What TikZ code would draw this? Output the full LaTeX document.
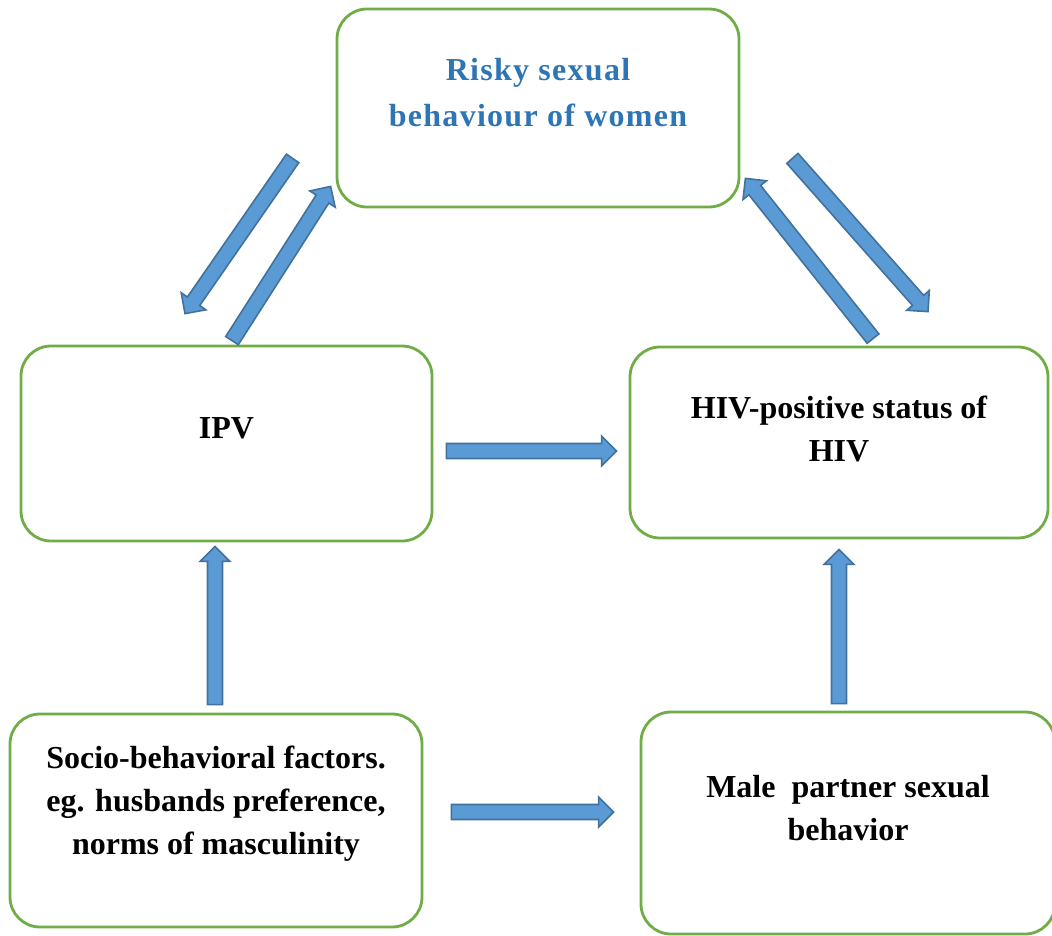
\documentclass[tikz,border=0pt]{standalone}
\usepackage{fontspec}
\setmainfont{Liberation Serif}
\newfontfamily\widefont[LetterSpace=4]{Liberation Serif}
\usetikzlibrary{calc}
\definecolor{boxgreen}{HTML}{70AD47}
\definecolor{arrowfill}{HTML}{5B9BD5}
\definecolor{arrowline}{HTML}{41719C}
\definecolor{titleblue}{HTML}{2E75B6}
\newcommand{\blockarrow}[2]{%
  \coordinate (ba-s) at (#1);
  \coordinate (ba-e) at (#2);
  \coordinate (ba-h) at ($(ba-e)!15pt!(ba-s)$);
  \filldraw[barrow] ($(ba-s)!7.5pt!90:(ba-e)$) -- ($(ba-h)!7.5pt!90:(ba-e)$)
    -- ($(ba-h)!15pt!90:(ba-e)$) -- (ba-e) -- ($(ba-h)!15pt!-90:(ba-e)$)
    -- ($(ba-h)!7.5pt!-90:(ba-e)$) -- ($(ba-s)!7.5pt!-90:(ba-e)$) -- cycle;}

\begin{document}
\begin{tikzpicture}[x=1pt,y=-1pt,
  box/.style={draw=boxgreen,line width=2.8pt,rounded corners=30pt,fill=white,
    inner sep=0pt},
  txt/.style={font=\fontsize{32}{43}\selectfont\bfseries,align=center},
  barrow/.style={fill=arrowfill,draw=arrowline,line width=1.6pt,line join=miter}]
  \useasboundingbox (0,0) rectangle (1052,935);
  \node[box,minimum width=402pt,minimum height=198pt] (risk) at (538,108) {};
  \node[box,minimum width=411pt,minimum height=195pt] (ipv) at (226.5,443.5) {};
  \node[box,minimum width=418pt,minimum height=191pt] (hiv) at (839,442.5) {};
  \node[box,minimum width=412pt,minimum height=213pt] (socio) at (216,820.5) {};
  \node[box,minimum width=414pt,minimum height=222pt] (male) at (848,823) {};
  \node[txt,text=titleblue,font=\fontsize{32}{46}\selectfont\bfseries\widefont]
    (risk-txt) at ([yshift=15pt]risk.center) {Risky sexual\\behaviour of women};
  \node[txt] (ipv-txt) at ([yshift=15pt]ipv.center) {IPV};
  \node[txt] (hiv-txt) at ([yshift=14pt]hiv.center) {HIV-positive status of\\HIV};
  \node[txt] (socio-txt) at ([yshift=17pt]socio.center)
    {Socio-behavioral factors.\\eg. husbands preference,\\norms of masculinity};
  \node[txt] (male-txt) at ([yshift=15pt]male.center)
    {Male\ \ partner sexual\\behavior};
  \blockarrow{[shift={(-43,-50)}]risk.south west}{[shift={(-41.5,-31)}]ipv.north}
  \blockarrow{[shift={(5.5,-4)}]ipv.north}{[shift={(-5,-22)}]risk.south west}
  \blockarrow{[shift={(34,-7)}]hiv.north}{[shift={(5,-30)}]risk.south east}
  \blockarrow{[shift={(52,-50)}]risk.south east}{[shift={(89,-34)}]hiv.north}
  \blockarrow{[shift={(13,7.5)}]ipv.east}{[shift={(-12,8.5)}]hiv.west}
  \blockarrow{[shift={(-1,-8)}]socio.north}{[shift={(-11.5,4)}]ipv.south}
  \blockarrow{[shift={(-9,-7)}]male.north}{[shift={(0,10)}]hiv.south}
  \blockarrow{[shift={(28,-8.5)}]socio.east}{[shift={(-26,-11)}]male.west}
\end{tikzpicture}
\end{document}
